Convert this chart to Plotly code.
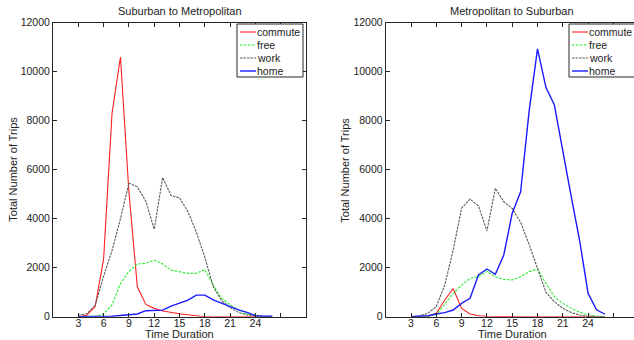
import plotly.graph_objects as go

hours = list(range(3, 27))

# Suburban to Metropolitan
s2m_commute = [0, 60, 420, 2350, 8300, 10600, 5100, 1220, 500, 340, 230, 160, 120, 80, 40, 0, 0, 0, 0, 0, 0, 0, 0, 0]
s2m_free = [0, 0, 20, 110, 480, 1360, 1850, 2150, 2180, 2310, 2150, 1900, 1840, 1770, 1770, 1930, 1290, 750, 480, 270, 110, 60, 10, 0]
s2m_work = [60, 120, 460, 1650, 2700, 4000, 5450, 5300, 4720, 3570, 5680, 4950, 4850, 4290, 3450, 2420, 1230, 650, 370, 170, 70, 30, 0, 0]
s2m_home = [0, 0, 0, 10, 20, 50, 95, 110, 245, 272, 270, 430, 570, 680, 880, 880, 690, 545, 410, 275, 175, 45, 20, 20]

# Metropolitan to Suburban
m2s_commute = [0, 0, 10, 140, 680, 1150, 340, 110, 40, 20, 10, 0, 0, 0, 0, 0, 0, 0, 0, 0, 0, 0, 0, 0]
m2s_free = [0, 0, 20, 80, 540, 950, 1290, 1560, 1630, 1850, 1630, 1520, 1500, 1630, 1840, 1950, 1360, 816, 544, 340, 177, 70, 27, 0]
m2s_work = [0, 40, 140, 410, 1290, 2720, 4430, 4800, 4520, 3500, 5240, 4690, 4420, 3850, 2950, 1950, 1000, 610, 340, 170, 70, 20, 0, 0]
m2s_home = [0, 10, 40, 110, 165, 272, 544, 750, 1700, 1946, 1730, 2520, 4220, 5100, 8370, 10930, 9360, 8640, 6850, 4900, 3100, 950, 280, 100]

series_names = ["commute", "free", "work", "home"]
titles = ["Suburban to Metropolitan", "Metropolitan to Suburban"]
x_ticks = [3, 6, 9, 12, 15, 18, 21, 24, 27]
x_ticktext = ["3", "6", "9", "12", "15", "18", "21", "24", ""]
y_ticks = [0, 2000, 4000, 6000, 8000, 10000, 12000]

styles = {
    "commute": dict(color="#ff2020", width=1.1, dash="solid"),
    "free": dict(color="#22ee22", width=1.1, dash="2.5px,1.5px"),
    "work": dict(color="#5a5a5a", width=1.1, dash="2.5px,1px"),
    "home": dict(color="#1a1aff", width=1.4, dash="solid"),
}

W, H = 634, 340
fig = go.Figure()

panels = [
    ("x", "y", [s2m_commute, s2m_free, s2m_work, s2m_home]),
    ("x2", "y2", [m2s_commute, m2s_free, m2s_work, m2s_home]),
]
for xa, ya, data in panels:
    for name, vals in zip(series_names, data):
        fig.add_trace(go.Scatter(x=hours, y=vals, mode="lines", name=name,
                                 line=styles[name], xaxis=xa, yaxis=ya,
                                 showlegend=False))

FONT = "Liberation Sans, Arial, sans-serif"
axcol = "#262626"

def px(v):
    return v / W

def py(v):
    return 1 - v / H

# left axes: x 53..306 px ; right axes: 385.7 .. (clipped at 634)
left_x0, left_x1 = 53, 306
right_x0 = 385.7
unit = (left_x1 - left_x0) / 30.0
right_max = (W - right_x0) / unit
y_top, y_bot = 22.7, 316.7

common_x = dict(tickmode="array", tickvals=x_ticks, ticktext=x_ticktext,
                ticks="inside", ticklen=4, tickcolor=axcol, showgrid=False,
                zeroline=False, showline=True, linecolor=axcol, linewidth=1,
                mirror="ticks", automargin=False, ticklabelstandoff=-3,
                tickfont=dict(family=FONT, size=10.5, color="#222"))
common_y = dict(tickmode="array", tickvals=y_ticks, range=[0, 12000], tickformat="d",
                ticks="inside", ticklen=4, tickcolor=axcol, showgrid=False,
                zeroline=False, showline=True, linecolor=axcol, linewidth=1,
                automargin=False,
                tickfont=dict(family=FONT, size=10.5, color="#222"))

fig.update_layout(
    width=W, height=H,
    margin=dict(l=0, r=0, t=0, b=0, autoexpand=False),
    paper_bgcolor="white", plot_bgcolor="white",
    showlegend=False,
    xaxis=dict(domain=[px(left_x0), px(left_x1)], range=[0, 30], anchor="y", **common_x),
    yaxis=dict(domain=[py(y_bot), py(y_top)], anchor="x", mirror="ticks", **common_y),
    xaxis2=dict(domain=[px(right_x0), 1.0], range=[0, right_max], anchor="y2", **common_x),
    yaxis2=dict(domain=[py(y_bot), py(y_top)], anchor="x2", mirror=False, **common_y),
)

annotations = []
shapes = []
centers = [(left_x0 + left_x1) / 2, right_x0 + 15 * unit]
ytitle_x = [13, 345]
for i, c in enumerate(centers):
    annotations.append(dict(text=titles[i], x=px(c), y=py(11), xref="paper", yref="paper",
                            showarrow=False, xanchor="center", yanchor="middle",
                            font=dict(family=FONT, size=11, color="#222")))
    annotations.append(dict(text="Time Duration", x=px(c), y=py(340), xref="paper", yref="paper",
                            showarrow=False, xanchor="center", yanchor="bottom", borderpad=0,
                            yshift=-1,
                            font=dict(family=FONT, size=11, color="#222")))
    annotations.append(dict(text="Total Number of Trips", x=px(ytitle_x[i]), y=py((y_top + y_bot) / 2),
                            xref="paper", yref="paper", showarrow=False, textangle=-90,
                            xanchor="center", yanchor="middle",
                            font=dict(family=FONT, size=11, color="#222")))

# manual legends
legend_boxes = [(237, 303), (569, 660)]
row_y = [32, 45, 58, 71]
for bx0, bx1 in legend_boxes:
    shapes.append(dict(type="rect", xref="paper", yref="paper",
                       x0=px(bx0), x1=px(bx1), y0=py(77), y1=py(24),
                       line=dict(color=axcol, width=1), fillcolor="white", layer="above"))
    for name, ry in zip(series_names, row_y):
        st = styles[name]
        shapes.append(dict(type="line", xref="paper", yref="paper",
                           x0=px(bx0 + 3), x1=px(bx0 + 19), y0=py(ry), y1=py(ry),
                           line=dict(color=st["color"], width=st["width"], dash=st["dash"]),
                           layer="above"))
        annotations.append(dict(text=name, x=px(bx0 + 19), y=py(ry), xref="paper", yref="paper",
                                showarrow=False, xanchor="left", yanchor="middle", borderpad=0,
                                font=dict(family=FONT, size=10.5, color="#222")))

fig.update_layout(annotations=annotations, shapes=shapes)
fig.write_html("out.html", config={"displayModeBar": False, "staticPlot": True},
               post_script="document.body.style.margin='0';document.body.style.overflow='hidden';")
